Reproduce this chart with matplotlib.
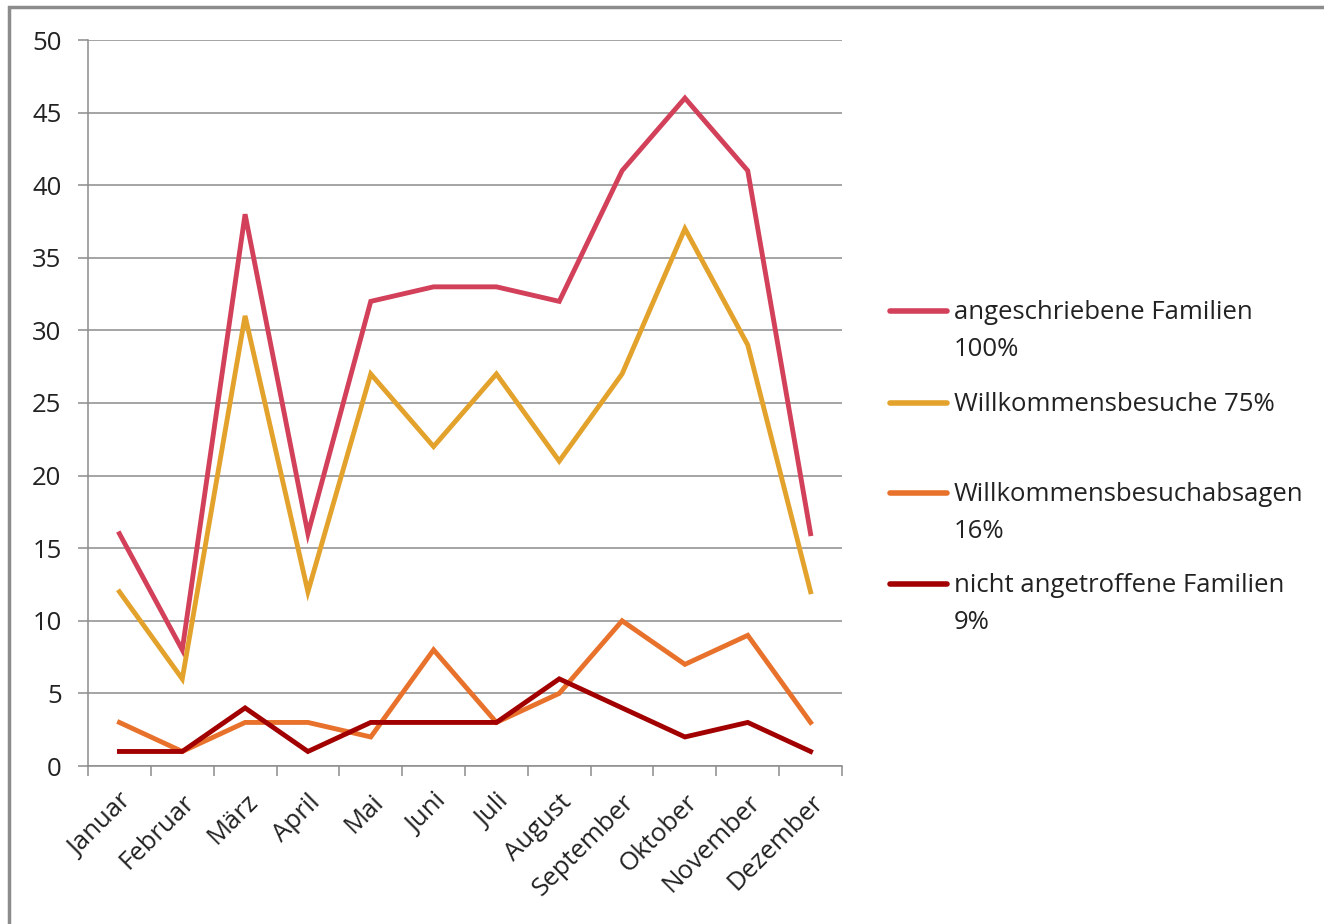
import matplotlib
matplotlib.use("Agg")
import matplotlib.pyplot as plt
from matplotlib.lines import Line2D
from matplotlib.patches import Rectangle
import numpy as np

months = ["Januar", "Februar", "März", "April", "Mai", "Juni", "Juli",
          "August", "September", "Oktober", "November", "Dezember"]
angeschrieben = [16, 8, 38, 16, 32, 33, 33, 32, 41, 46, 41, 16]
besuche = [12, 6, 31, 12, 27, 22, 27, 21, 27, 37, 29, 12]
absagen = [3, 1, 3, 3, 2, 8, 3, 5, 10, 7, 9, 3]
nicht_angetroffen = [1, 1, 4, 1, 3, 3, 3, 6, 4, 2, 3, 1]
labels = ["angeschriebene Familien\n100%", "Willkommensbesuche 75%",
          "Willkommensbesuchabsagen\n16%", "nicht angetroffene Familien\n9%"]
colors = ["#D2405A", "#E3A22B", "#E8722C", "#A20000"]
yticks = [0, 5, 10, 15, 20, 25, 30, 35, 40, 45, 50]

plt.rcParams['font.family'] = ['Open Sans', 'DejaVu Sans']
W, H = 1324, 924
fig = plt.figure(figsize=(W/100, H/100), dpi=100)
ax = fig.add_axes([88/W, 1-766/H, (842-88)/W, (766-40)/H])

x = np.arange(len(months))
series = [angeschrieben, besuche, absagen, nicht_angetroffen]
for s, c in zip(series, colors):
    ax.plot(x, s, color=c, lw=3.5, solid_joinstyle='miter', zorder=3)

FS = 18.5
ax.set_xlim(-0.5, len(months)-0.5)
ax.set_ylim(0, 50)
ax.set_yticks(yticks)
ax.grid(axis='y', color='#8c8c8c', lw=1.1)
ax.set_axisbelow(True)
for sp in ['top', 'right']:
    ax.spines[sp].set_visible(False)
for sp in ['left', 'bottom']:
    ax.spines[sp].set_color('#8c8c8c')
    ax.spines[sp].set_linewidth(1.1)
ax.set_xticks(x)
ax.set_xticks(np.arange(-0.5, len(months)), minor=True)
ax.tick_params(axis='x', which='major', length=0, pad=17)
ax.tick_params(axis='x', which='minor', length=7, width=1.1, color='#8c8c8c')
ax.tick_params(axis='y', length=7, width=1.1, color='#8c8c8c', labelsize=FS, pad=12,
               labelcolor='#222222')
ax.set_xticklabels(months, rotation=45, ha='right', va='top', rotation_mode='anchor',
                   fontsize=FS, color='#222222')

# legend
ys = [311, 403, 493, 584]
for lab, c, yy in zip(labels, colors, ys):
    fig.add_artist(Line2D([890/W, 947/W], [1-yy/H, 1-yy/H], color=c, lw=4,
                          solid_capstyle='round', transform=fig.transFigure))
    for i, part in enumerate(lab.split("\n")):
        fig.text(954/W, 1-(yy + 8 + 37*i)/H, part, fontsize=FS, color='#222222',
                 va='baseline', ha='left')

fig.add_artist(Rectangle((9/W, -0.05), 1.2, 1-7/H+0.05, transform=fig.transFigure,
                         fill=False, edgecolor='#8c8c8c', lw=2.5))
fig.savefig("out.png", dpi=100)
